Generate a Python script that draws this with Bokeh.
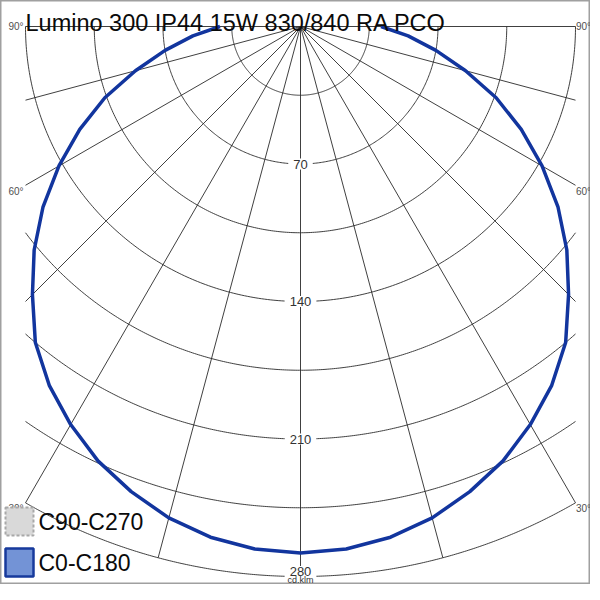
import numpy as np
from bokeh.plotting import figure
from bokeh.models import Range1d, ColumnDataSource
from bokeh.embed import file_html
from bokeh.resources import INLINE
from bokeh.core.properties import value

# ---------------- data ----------------
title_text = "Lumino 300 IP44 15W 830/840 RA PCO"
gamma_deg = [0, 5, 10, 15, 20, 25, 30, 35, 40, 45, 50, 55, 60, 65, 70, 75, 80, 85, 90]
c0_c180 = [268, 267, 264, 259, 252, 244, 234, 223, 210, 193, 177, 160, 142, 124, 106, 87, 70, 55, 41]
c90_c270 = [268, 267, 264, 259, 252, 244, 234, 223, 210, 193, 177, 160, 142, 124, 106, 87, 70, 55, 41]
ring_values = [35, 70, 105, 140, 175, 210, 245, 280]
ring_label_values = [70, 140, 210, 280]
spoke_angles = [0, 15, 30, 45, 60, 75, 90]
angle_label_values = [30, 60, 90]
unit_text = "cd.klm"
legend_labels = ["C90-C270", "C0-C180"]

R_MAX = 280.0      # outer ring (cd/klm)
HALF_W = 140.0     # half width of the drawing box (cd/klm)

# ---------------- layout ----------------
W, H = 590, 584
PLOT_PX = 550.0
s = PLOT_PX / R_MAX          # px per cd/klm
ox, oy = 300.0, 26.0         # origin position in figure pixels
FONT = "Liberation Sans"


def px2x(fx):
    return (fx - ox) / s


def px2y(fy):
    return (oy - fy) / s


p = figure(width=W, height=H, output_backend="svg", toolbar_location=None,
           x_range=Range1d(px2x(0), px2x(W)),
           y_range=Range1d(px2y(H), px2y(0)),
           min_border=0, min_border_left=0, min_border_right=0,
           min_border_top=0, min_border_bottom=0)
p.axis.visible = False
p.grid.visible = False
p.background_fill_color = "white"
p.border_fill_color = "white"
p.outline_line_color = "#a0a0a0"
p.outline_line_width = 2

GRID_COLOR = "#2a2a2a"

# rings (clipped to the box)
ring_xs, ring_ys = [], []
for r in ring_values:
    lim = np.pi / 2 if r <= HALF_W else np.arcsin(HALF_W / r)
    t = np.linspace(-lim, lim, 300)
    ring_xs.append(list(r * np.sin(t)))
    ring_ys.append(list(-r * np.cos(t)))
p.multi_line(ring_xs, ring_ys, line_color=GRID_COLOR, line_width=0.9)

# spokes
sp_xs, sp_ys = [], []
for a in spoke_angles:
    ar = np.radians(a)
    rend = R_MAX if a == 0 else min(R_MAX, HALF_W / np.sin(ar))
    for sign in ([1] if a == 0 else [-1, 1]):
        sp_xs.append([0.0, sign * rend * np.sin(ar)])
        sp_ys.append([0.0, -rend * np.cos(ar)])
p.multi_line(sp_xs, sp_ys, line_color=GRID_COLOR, line_width=0.9)

# curves (full -90..90)
g = np.radians(np.array(gamma_deg, dtype=float))


def full_curve(vals):
    v = np.array(vals, dtype=float)
    gg = np.concatenate([-g[::-1], g[1:]])
    vv = np.concatenate([v[::-1], v[1:]])
    return vv * np.sin(gg), -vv * np.cos(gg)


x90, y90 = full_curve(c90_c270)
p.line(x90, y90, line_color="#b0b0b0", line_width=2, line_dash="4 3")
x0, y0 = full_curve(c0_c180)
p.line(x0, y0, line_color="#12359e", line_width=3.5, line_join="round")

# angle labels at spoke ends
la_x, la_y, la_t, ra_x = [], [], [], []
for a in angle_label_values:
    ar = np.radians(a)
    rend = min(R_MAX, HALF_W / np.sin(ar))
    la_x.append(-rend * np.sin(ar))
    ra_x.append(rend * np.sin(ar))
    la_y.append(-rend * np.cos(ar))
    la_t.append(f"{a}°")
yoffs = [6 if a < 90 else 0 for a in angle_label_values]
src_l = ColumnDataSource(dict(x=la_x, y=la_y, t=la_t, yo=yoffs))
src_r = ColumnDataSource(dict(x=ra_x, y=la_y, t=la_t, yo=yoffs))
p.text(x="x", y="y", text="t", source=src_l, text_font=value(FONT), text_font_size="10px",
       text_color="#505050", text_align="right", text_baseline="middle", x_offset=-2, y_offset="yo")
p.text(x="x", y="y", text="t", source=src_r, text_font=value(FONT), text_font_size="10px",
       text_color="#505050", text_align="left", text_baseline="middle", x_offset=0.5, y_offset="yo")

# ring value labels (the outermost one nudged up to leave room for the unit)
lab_off = [0 if v < R_MAX else -5 for v in ring_label_values]
p.text(x=[0] * len(ring_label_values), y=[-v for v in ring_label_values],
       text=[str(v) for v in ring_label_values], y_offset=lab_off,
       text_font=value(FONT), text_font_size="13px",
       text_color="#333333", text_align="center", text_baseline="middle",
       background_fill_color="white", padding=[5, 1])

# unit label
p.text(x=[0], y=[px2y(H)], text=[unit_text], text_font=value(FONT), text_font_size="9px",
       text_color="#333333", text_align="center", text_baseline="bottom")

# title
p.text(x=[-HALF_W], y=[0], text=[title_text], text_font=value(FONT), text_font_size="23.5px",
       text_color="#0a0a0a", text_align="left", text_baseline="alphabetic", y_offset=-4)

# legend (drawn manually: swatches + labels)
SW = 28
sw_cx = px2x(19)
leg_cy = [px2y(521), px2y(562)]
p.rect(x=[sw_cx], y=[leg_cy[0]], width=SW, height=SW, width_units="screen", height_units="screen",
       fill_color="#d9d9d9", line_color="#a8a8a8", line_dash="3 2", line_width=2)
p.rect(x=[sw_cx], y=[leg_cy[1]], width=SW, height=SW, width_units="screen", height_units="screen",
       fill_color="#7393d6", line_color="#173a9c", line_width=2.5)
p.text(x=[px2x(38)] * 2, y=leg_cy, text=legend_labels, text_font=value(FONT), text_font_size="23px",
       text_color="#0a0a0a", text_align="left", text_baseline="middle")

open("out.html", "w").write(file_html(p, INLINE))
